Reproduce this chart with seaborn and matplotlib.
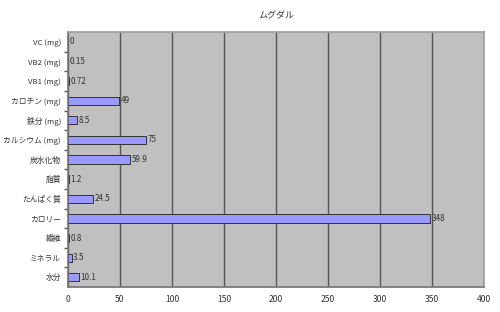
import matplotlib
matplotlib.use("Agg")
import matplotlib.pyplot as plt
import seaborn as sns
import pandas as pd
from matplotlib.ticker import MultipleLocator

categories = ["VC (mg)", "VB2 (mg)", "VB1 (mg)", "カロチン (mg)", "鉄分 (mg)", "カルシウム (mg)",
              "炭水化物", "脂質", "たんぱく質", "カロリー", "繊維", "ミネラル", "水分"]
values = [0, 0.15, 0.72, 49, 8.5, 75, 59.9, 1.2, 24.5, 348, 0.8, 3.5, 10.1]
labels = ["0", "0.15", "0.72", "49", "8.5", "75", "59.9", "1.2", "24.5", "348", "0.8", "3.5", "10.1"]
title = "ムグダル"

sns.set_theme(style="white")
plt.rcParams['font.family'] = ['Noto Sans CJK JP', 'DejaVu Sans']

df = pd.DataFrame({"cat": categories, "val": values})

fig = plt.figure(figsize=(5, 3.12), dpi=100)
ax = fig.add_axes([0.136, 0.08, 0.832, 0.817])
ax.set_facecolor("#c0c0c0")
sns.barplot(data=df, y="cat", x="val", orient="h", color="#9999ff", width=0.42,
            edgecolor="#333333", linewidth=0.7, saturation=1, ax=ax)
ax.set_xlim(0, 400)
ax.xaxis.set_major_locator(MultipleLocator(50))
ax.grid(axis="x", color="#555555", linewidth=1)
ax.set_axisbelow(True)
ax.set_xlabel("")
ax.set_ylabel("")
ax.set_title(title, fontsize=6.5, color="#333333", pad=10)
ax.tick_params(axis="x", labelsize=6.2, colors="#333333", length=0, pad=6)
ax.tick_params(axis="y", labelsize=5.6, colors="#333333", length=0, pad=5)
for s in ["top", "right"]:
    ax.spines[s].set_color("#a0a0a0")
for s in ["left", "bottom"]:
    ax.spines[s].set_color("#777777")
# category boundary ticks on the left spine
ax.set_yticks([i + 0.5 for i in range(len(categories) - 1)], minor=True)
ax.tick_params(axis="y", which="minor", left=True, length=3, color="#555555", direction="out")
for i, (v, lab) in enumerate(zip(values, labels)):
    ax.text(v + 1.5, i, lab, va="center", ha="left", fontsize=5.8, color="#333333")

fig.savefig("out.png", dpi=100)
